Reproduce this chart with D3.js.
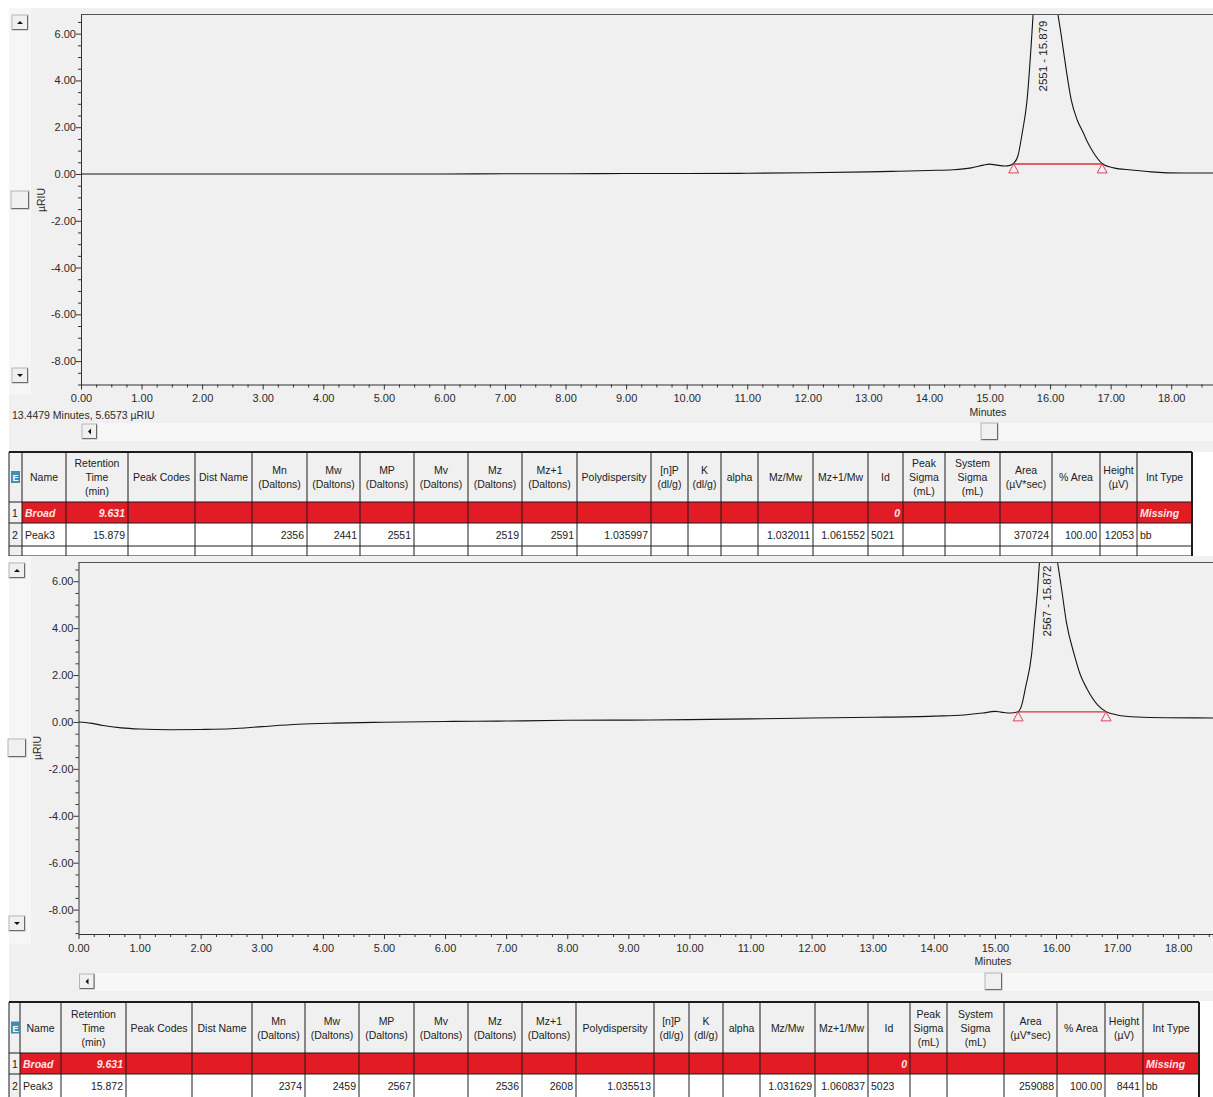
<!DOCTYPE html>
<html>
<head>
<meta charset="utf-8">
<script src="https://cdn.jsdelivr.net/npm/d3@7"></script>
<style>
  body { margin: 0; background: #fff; }
  svg { display: block; font-family: "Liberation Sans", Arial, sans-serif; }
</style>
</head>
<body>
<svg id="c" width="1213" height="1097"></svg>
<script>
// ---------- data ----------
const xTickValues = [0, 1, 2, 3, 4, 5, 6, 7, 8, 9, 10, 11, 12, 13, 14, 15, 16, 17, 18];
const yTickValues = [-8, -6, -4, -2, 0, 2, 4, 6];

// RI detector trace, run 1 : [minutes, µRIU]
const run1Trace = [
  [0, 0.0], [1, 0.0], [2, 0.0], [3, 0.0], [4, 0.0], [5, 0.0], [6, 0.0], [7, 0.01],
  [8, 0.01], [9, 0.02], [10, 0.02], [11, 0.03], [12, 0.05], [13, 0.09], [13.5, 0.12],
  [14, 0.15], [14.4, 0.18], [14.7, 0.26], [14.9, 0.38], [15.0, 0.42], [15.1, 0.39],
  [15.25, 0.34], [15.35, 0.38], [15.40, 0.46], [15.47, 0.78], [15.54, 1.75], [15.62, 3.16],
  [15.70, 6.0], [15.72, 6.84], [15.80, 10.2], [15.879, 12.45], [15.98, 10.6], [16.13, 6.84],
  [16.18, 6.0], [16.26, 4.57], [16.35, 3.16], [16.45, 2.3], [16.55, 1.75], [16.63, 1.3],
  [16.72, 0.9], [16.86, 0.45], [17.05, 0.26], [17.34, 0.17], [17.67, 0.09], [18.2, 0.04], [18.7, 0.04]
];

// RI detector trace, run 2 : [minutes, µRIU]
const run2Trace = [
  [0, 0.0], [0.2, -0.05], [0.4, -0.15], [0.7, -0.25], [1.0, -0.3], [1.5, -0.33], [2.0, -0.32],
  [2.5, -0.29], [3.0, -0.2], [3.6, -0.1], [4.2, -0.05], [5, -0.01], [6, 0.02], [7, 0.04],
  [8, 0.07], [9, 0.08], [10, 0.1], [11, 0.13], [12, 0.17], [13, 0.2], [14, 0.25], [14.5, 0.3],
  [14.8, 0.38], [15.0, 0.45], [15.1, 0.42], [15.25, 0.38], [15.38, 0.44], [15.44, 0.73],
  [15.5, 1.45], [15.6, 2.86], [15.65, 4.26], [15.70, 5.7], [15.73, 6.82], [15.8, 8.0],
  [15.872, 8.85], [15.95, 8.1], [16.02, 6.9], [16.09, 5.7], [16.17, 4.26], [16.3, 2.86],
  [16.4, 2.0], [16.5, 1.45], [16.68, 0.73], [16.82, 0.44], [17.0, 0.3], [17.33, 0.21], [17.8, 0.18], [18.6, 0.17]
];

const peakLabels = ["2551 - 15.879", "2567 - 15.872"];
const peakStart = [15.40, 15.38];
const peakEnd = [16.86, 16.82];
const peakBase = [0.43, 0.43];
const statusText = "13.4479 Minutes, 5.6573 µRIU";

const headerLabels = [
  "", "Name", "Retention\nTime\n(min)", "Peak Codes", "Dist Name", "Mn\n(Daltons)", "Mw\n(Daltons)",
  "MP\n(Daltons)", "Mv\n(Daltons)", "Mz\n(Daltons)", "Mz+1\n(Daltons)", "Polydispersity",
  "[n]P\n(dl/g)", "K\n(dl/g)", "alpha", "Mz/Mw", "Mz+1/Mw", "Id", "Peak\nSigma\n(mL)",
  "System\nSigma\n(mL)", "Area\n(µV*sec)", "% Area", "Height\n(µV)", "Int Type"
];
const broadRow = ["1", "Broad", "9.631", "", "", "", "", "", "", "", "", "", "", "", "", "", "", "0", "", "", "", "", "", "Missing"];
const table1Peak = ["2", "Peak3", "15.879", "", "", "2356", "2441", "2551", "", "2519", "2591", "1.035997", "", "", "", "1.032011", "1.061552", "5021", "", "", "370724", "100.00", "12053", "bb"];
const table2Peak = ["2", "Peak3", "15.872", "", "", "2374", "2459", "2567", "", "2536", "2608", "1.035513", "", "", "", "1.031629", "1.060837", "5023", "", "", "259088", "100.00", "8441", "bb"];

// ---------- drawing ----------
const svg = d3.select("#c");
svg.append("rect").attr("width", 1213).attr("height", 1097).attr("fill", "#fff");
const defs = svg.append("defs");

function button(g, x, y, w, h, kind) {
  g.append("rect").attr("x", x).attr("y", y).attr("width", w).attr("height", h)
    .attr("fill", "#f0f0f0").attr("stroke", "#b4b4b4").attr("stroke-width", 1);
  g.append("path").attr("d", `M${x + 0.5},${y + h - 0.5}H${x + w - 0.5}V${y + 0.5}`)
    .attr("fill", "none").attr("stroke", "#6a6a6a").attr("stroke-width", 1);
  const cx = x + w / 2, cy = y + h / 2;
  if (kind === "up") g.append("path").attr("d", `M${cx - 3},${cy + 1.5}L${cx + 3},${cy + 1.5}L${cx},${cy - 1.5}Z`).attr("fill", "#111");
  if (kind === "down") g.append("path").attr("d", `M${cx - 3},${cy - 1.5}L${cx + 3},${cy - 1.5}L${cx},${cy + 1.5}Z`).attr("fill", "#111");
  if (kind === "left") g.append("path").attr("d", `M${cx + 1.5},${cy - 3}L${cx + 1.5},${cy + 3}L${cx - 1.5},${cy}Z`).attr("fill", "#111");
}

function drawChart(cfg, trace, k) {
  const g = svg.append("g");
  g.append("rect").attr("x", 9).attr("y", cfg.top).attr("width", 1204).attr("height", cfg.bottom - cfg.top).attr("fill", "#f0f0f0");
  g.append("rect").attr("x", 9).attr("y", cfg.top).attr("width", 22).attr("height", cfg.axisY + 10 - cfg.top).attr("fill", "#f6f6f6");
  g.append("rect").attr("x", cfg.left).attr("y", cfg.sbTop).attr("width", 1213 - cfg.left).attr("height", 18).attr("fill", "#f7f7f7");

  const x = d3.scaleLinear().domain([0, cfg.xMax]).range([cfg.left, 1213]);
  const y = d3.scaleLinear().domain([cfg.yMin, cfg.yMax]).range([cfg.axisY, cfg.plotTop]);

  // plot frame top edge
  g.append("line").attr("x1", cfg.left).attr("x2", 1213).attr("y1", cfg.plotTop + 0.5).attr("y2", cfg.plotTop + 0.5)
    .attr("stroke", "#555").attr("stroke-width", 1);

  const fmt = d => d.toFixed(2);
  // minor ticks
  const yMinor = d3.range(Math.ceil(cfg.yMin * 2) / 2, cfg.yMax, 0.5).filter(v => Math.abs(v % 2) > 1e-6);
  g.append("g").attr("transform", `translate(${cfg.left},0)`)
    .call(d3.axisLeft(y).tickValues(yMinor).tickSize(3).tickFormat("").tickSizeOuter(0))
    .call(a => a.select(".domain").remove())
    .call(a => a.selectAll("line").attr("stroke", "#333"));
  const xMinor = d3.range(0, cfg.xMax, 0.25).filter(v => Math.abs(v % 1) > 1e-6);
  g.append("g").attr("transform", `translate(0,${cfg.axisY})`)
    .call(d3.axisBottom(x).tickValues(xMinor).tickSize(3).tickFormat("").tickSizeOuter(0))
    .call(a => a.select(".domain").remove())
    .call(a => a.selectAll("line").attr("stroke", "#333"));

  // major axes
  const ya = g.append("g").attr("transform", `translate(${cfg.left},0)`)
    .call(d3.axisLeft(y).tickValues(yTickValues).tickFormat(fmt).tickSize(5).tickPadding(0).tickSizeOuter(0));
  const xa = g.append("g").attr("transform", `translate(0,${cfg.axisY})`)
    .call(d3.axisBottom(x).tickValues(xTickValues).tickFormat(fmt).tickSize(5).tickPadding(5).tickSizeOuter(0));
  [ya, xa].forEach(a => {
    a.selectAll("text").attr("font-size", 11).attr("fill", "#2a2a2a").attr("font-family", "Liberation Sans, Arial, sans-serif");
    a.selectAll("line").attr("stroke", "#333");
    a.select(".domain").attr("stroke", "#333");
  });

  // trace
  const clipId = "clip" + k;
  defs.append("clipPath").attr("id", clipId).append("rect")
    .attr("x", cfg.left).attr("y", cfg.plotTop + 1).attr("width", 1213 - cfg.left).attr("height", cfg.axisY - cfg.plotTop - 1);
  const line = d3.line().x(d => x(d[0])).y(d => y(d[1])).curve(d3.curveMonotoneX);
  g.append("path").datum(trace).attr("clip-path", `url(#${clipId})`)
    .attr("d", line).attr("fill", "none").attr("stroke", "#141414").attr("stroke-width", 1.1);

  // integration baseline and peak markers
  const yb = y(peakBase[k]);
  g.append("line").attr("x1", x(peakStart[k])).attr("x2", x(peakEnd[k])).attr("y1", yb).attr("y2", yb)
    .attr("stroke", "#d8323c").attr("stroke-width", 1.4);
  [peakStart[k], peakEnd[k]].forEach(t => {
    const cx = x(t);
    g.append("path").attr("d", `M${cx},${yb}L${cx + 5},${yb + 9}L${cx - 5},${yb + 9}Z`)
      .attr("fill", "none").attr("stroke", "#e0405a").attr("stroke-width", 1);
  });

  // peak label
  g.append("text").attr("transform", `translate(${cfg.labelX},${cfg.labelY}) rotate(-90)`)
    .attr("text-anchor", "middle").attr("dominant-baseline", "central")
    .attr("font-size", 11.5).attr("fill", "#222").text(peakLabels[k]);

  // axis titles
  g.append("text").attr("transform", `translate(${cfg.yTitleX},${cfg.yTitleY}) rotate(-90)`)
    .attr("text-anchor", "middle").attr("dominant-baseline", "central")
    .attr("font-size", 10.5).attr("fill", "#2a2a2a").text("µRIU");
  g.append("text").attr("x", cfg.minutesX).attr("y", cfg.minutesY).attr("text-anchor", "middle")
    .attr("font-size", 10.5).attr("fill", "#2a2a2a").text("Minutes");
  if (cfg.status) {
    g.append("text").attr("x", 12).attr("y", cfg.statusY).attr("font-size", 10.5).attr("fill", "#2a2a2a").text(statusText);
  }

  // scroll controls
  button(g, cfg.upBtn[0], cfg.upBtn[1], 16, 15, "up");
  button(g, cfg.midBtn[0], cfg.midBtn[1], 18, 18, "none");
  button(g, cfg.downBtn[0], cfg.downBtn[1], 16, 15, "down");
  button(g, cfg.left + 1, cfg.sbTop + 1, 15, 15, "left");
  button(g, cfg.thumbX, cfg.sbTop, 17, 17, "none");
}

function drawTable(top, edges, heights, rows) {
  const g = svg.append("g");
  const rowTops = [top];
  heights.forEach(h => rowTops.push(rowTops[rowTops.length - 1] + h));
  const nCols = edges.length - 1;
  const bottom = rowTops[rowTops.length - 1];

  // backgrounds
  g.append("rect").attr("x", edges[0]).attr("y", top).attr("width", edges[nCols] - edges[0]).attr("height", bottom - top).attr("fill", "#fff");
  g.append("rect").attr("x", edges[0]).attr("y", top).attr("width", edges[nCols] - edges[0]).attr("height", heights[0]).attr("fill", "#f0f0f0");
  g.append("rect").attr("x", edges[0]).attr("y", rowTops[1]).attr("width", edges[1] - edges[0]).attr("height", bottom - rowTops[1]).attr("fill", "#f0f0f0");
  g.append("rect").attr("x", edges[1]).attr("y", rowTops[1]).attr("width", edges[nCols] - edges[1]).attr("height", heights[1]).attr("fill", "#e31b25");

  // grid
  edges.forEach(e => g.append("line").attr("x1", e).attr("x2", e).attr("y1", top).attr("y2", bottom).attr("stroke", "#1c1c1c").attr("stroke-width", 1));
  rowTops.forEach((t, i) => g.append("line").attr("x1", edges[0]).attr("x2", edges[nCols]).attr("y1", t).attr("y2", t)
    .attr("stroke", "#1c1c1c").attr("stroke-width", i === 0 ? 2 : 1));
  g.append("line").attr("x1", edges[nCols]).attr("x2", edges[nCols]).attr("y1", top).attr("y2", bottom).attr("stroke", "#1c1c1c").attr("stroke-width", 2);

  // header icon
  g.append("rect").attr("x", edges[0] + 2).attr("y", top + heights[0] / 2 - 6).attr("width", 9).attr("height", 12).attr("fill", "#3f8fb5");
  g.append("text").attr("x", edges[0] + 6.5).attr("y", top + heights[0] / 2 + 4).attr("text-anchor", "middle")
    .attr("font-size", 9).attr("font-weight", "bold").attr("fill", "#fff").text("E");

  // header text
  headerLabels.forEach((lab, c) => {
    if (c === 0) return;
    const lines = lab.split("\n");
    const cx = (edges[c] + edges[c + 1]) / 2;
    const cy = top + heights[0] / 2;
    const t = g.append("text").attr("text-anchor", "middle").attr("font-size", 10.5).attr("fill", "#222");
    lines.forEach((ln, i) => {
      t.append("tspan").attr("x", cx).attr("y", cy + (i - (lines.length - 1) / 2) * 14 + 4).text(ln);
    });
  });

  // body
  const leftCols = new Set([1, 23]);
  rows.forEach((row, r) => {
    const ry = rowTops[r + 1] + heights[r + 1] / 2 + 4;
    const red = r === 0;
    row.forEach((v, c) => {
      if (!v) return;
      let anchor = leftCols.has(c) ? "start" : "end";
      if (c === 17 && !red) anchor = "start";
      if (c === 0) anchor = "start";
      const xPos = anchor === "start" ? edges[c] + 3 : edges[c + 1] - 3;
      g.append("text").attr("x", xPos).attr("y", ry).attr("text-anchor", anchor)
        .attr("font-size", 10.5)
        .attr("font-style", red && c > 0 ? "italic" : "normal")
        .attr("font-weight", red && c > 0 ? "bold" : "normal")
        .attr("fill", red && c > 0 ? "#fde6e6" : "#222").text(v);
    });
  });
}

drawChart({
  top: 8, bottom: 452, left: 81, plotTop: 14, axisY: 384.5, xMax: 18.69, yMin: -9.0, yMax: 6.84,
  sbTop: 423, thumbX: 981, labelX: 1043, labelY: 56, yTitleX: 41, yTitleY: 200,
  minutesX: 988, minutesY: 416, status: true, statusY: 419,
  upBtn: [12, 15], midBtn: [11, 191], downBtn: [12, 368]
}, run1Trace, 0);

drawTable(452, [9, 22, 66, 128, 195, 252, 307, 360, 414, 468, 522, 577, 651, 688, 721, 758, 813, 868, 903, 945, 1000, 1052, 1100, 1137, 1192],
  [50, 21, 23, 10], [broadRow, table1Peak, []]);

drawChart({
  top: 556, bottom: 1001, left: 78.5, plotTop: 562, axisY: 934, xMax: 18.57, yMin: -9.04, yMax: 6.82,
  sbTop: 973, thumbX: 985, labelX: 1047, labelY: 601, yTitleX: 37, yTitleY: 748,
  minutesX: 993, minutesY: 965, status: false,
  upBtn: [9, 563], midBtn: [8, 739], downBtn: [9, 916]
}, run2Trace, 1);

drawTable(1002, [9, 20, 61, 126, 192, 252, 305, 359, 414, 468, 522, 576, 654, 689, 723, 760, 815, 868, 910, 947, 1004, 1057, 1105, 1143, 1199],
  [51, 21, 24], [broadRow, table2Peak]);
</script>
</body>
</html>
